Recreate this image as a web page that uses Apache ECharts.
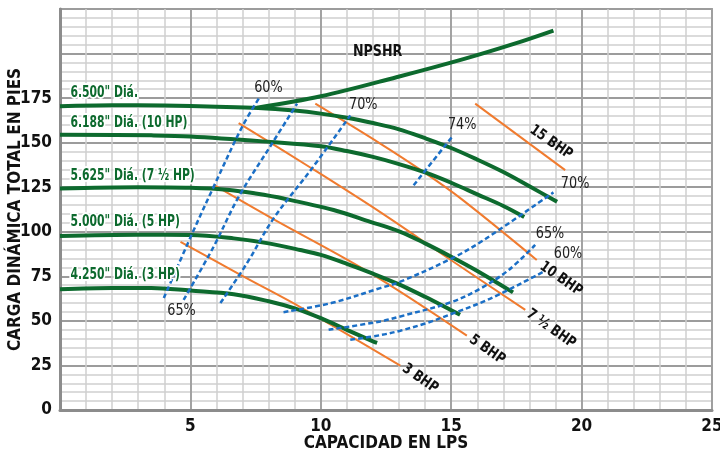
<!DOCTYPE html>
<html><head><meta charset="utf-8">
<script src="https://cdn.jsdelivr.net/npm/echarts@6/dist/echarts.min.js"></script>
<style>html,body{margin:0;padding:0;background:#fff}#c{width:720px;height:458px}</style>
</head><body><div id="c"></div>
<script>
// ---- axis ----
const xMin = 0, xMax = 25, yMin = 0, yMax = 225;
const xTickLabels = [5, 10, 15, 20, 25];
const yTickLabels = [0, 25, 50, 75, 100, 125, 150, 175];
const xName = 'CAPACIDAD EN LPS';
const yName = 'CARGA DINÁMICA TOTAL EN PIES';

// ---- head curves (impeller diameters) ----
const d6500 = [[0,170.5],[2,171],[4,170.8],[6,170.2],[7.6,169.5],[9,168],[10,166.3],[11,164],[12,161],[13,157.5],[14,152.5],[15,147],[16,140.5],[17,133.5],[18,125.5],[19.06,116.8]];
const d6188 = [[0,154.5],[3.5,154.1],[5,153.5],[8.07,150.4],[10,148],[11,145.3],[12,142],[13,138],[14,133.3],[15,127.5],[16,121],[17,114.5],[17.8,108.3]];
const d5625 = [[0,124.3],[3,125],[5,124.7],[6.5,123.5],[7.5,121.5],[8.57,118.7],[10.49,112.2],[11.9,105.6],[13.05,100],[14,93.5],[15,86],[16,78],[17.37,66]];
const d5000 = [[0,97.6],[3,98.3],[5,98.2],[6.66,96.3],[8,93.5],[9.21,89.8],[10,87],[11,82],[12,76.5],[13,70.5],[14,63.5],[15,56],[15.34,53.4]];
const d4250 = [[0,67.8],[2,68.5],[3.5,68.5],[5,67],[6.66,65],[8,61],[9,57],[10,51.5],[11,45],[12,38.5],[12.16,37.6]];
const npshr = [[7.55,169.6],[10,176],[12.9,186.7],[15.5,197],[17.4,205.4],[18.92,212.9]];

// ---- power lines (BHP) ----
const bhp15 = [[15.92,171.9],[19.37,134.6]];
const bhp10 = [[9.79,171.9],[12.28,149.5],[13.94,133.6],[15.41,118.2],[18.28,84.2]];
const bhp75 = [[6.85,161],[9.66,135.5],[12.28,111],[15,84],[17.84,56.2]];
const bhp5  = [[5.93,126],[8.13,107.5],[11.9,76.8],[15.6,41.7]];
const bhp3  = [[4.62,94.4],[6.92,75.8],[9.28,57.2],[13.05,24.9]];

// ---- efficiency lines ----
const eff60L = [[3.98,62.8],[5.07,99.1],[5.89,125.2],[6.98,158.8],[7.62,174.7]];
const eff65L = [[4.74,61.8],[5.89,91.6],[6.85,119.6],[8.13,149.5],[9.09,171.9]];
const eff70L = [[6.15,60.0],[7.17,82.4],[8.19,107.5],[9.66,135.5],[11.13,165.3]];
const eff74  = [[13.56,126.1],[15.03,153.2]];
const eff70R = [[8.57,54.9],[10.4,60],[12.28,68.4],[13.05,72],[15.03,85.1],[16.24,95.3],[18.92,122.1]];
const eff65R = [[10.3,45],[12.28,49.7],[13.05,52.5],[15,60.5],[16.1,68],[17.2,78.5],[18.22,92.6]];
const eff60R = [[11.13,39.4],[12.28,42],[13.05,44.5],[14,48.5],[15.03,54],[16.5,62.5],[18.54,77.6]];

// ---- annotation texts ----
const diaTexts = ['6.500" Diá.', '6.188" Diá. (10 HP)', '5.625" Diá. (7 ½ HP)', '5.000" Diá. (5 HP)', '4.250" Diá. (3 HP)'];
const diaAt = [[0.4,177.6],[0.4,161.1],[0.4,131.5],[0.4,105.7],[0.4,75.5]];
const pctTexts = ['60%', '70%', '74%', '70%', '65%', '60%', '65%'];
const pctAt = [[7.99,180.7],[11.63,170.9],[15.42,159.7],[19.75,127.0],[18.79,98.7],[19.48,87.6],[4.66,55.4]];
const bhpTexts = ['15 BHP', '10 BHP', '7 ½ BHP', '5 BHP', '3 BHP'];
const bhpAt = [[18.83,150.2],[19.21,73.6],[18.83,45.6],[16.38,33.8],[13.81,17.6]];
const npshrText = 'NPSHR';
const npshrAt = [12.18,200.7];

const F = "'DejaVu Sans Condensed','Liberation Sans Narrow','Roboto Condensed','Open Sans',sans-serif";
const GREEN = '#0d6a2e', ORANGE = '#f07b2f', BLUE = '#1b6fc6';

function curve(data, color, width, dashed, z) {
  return { type: 'line', data: data, showSymbol: false, smooth: 0.35, silent: true, z: z,
    lineStyle: { color: color, width: width, type: dashed ? [5, 3] : 'solid', cap: 'butt' } };
}

// annotation styles (kind index -> style)
const annStyles = [
  { fill: GREEN, fontWeight: 'bold', fontSize: 15, align: 'left', scaleX: 0.8, rot: 0, stroke: '#fff' },
  { fill: '#222', fontWeight: 'normal', fontSize: 15, align: 'center', scaleX: 0.95, rot: 0 },
  { fill: '#111', fontWeight: 'bold', fontSize: 15, align: 'center', scaleX: 0.88, rot: -35 },
  { fill: '#111', fontWeight: 'bold', fontSize: 16, align: 'center', scaleX: 0.88, rot: 0 }
];
const annTexts = [];
const annData = [];
function addAnn(texts, pos, kind) {
  texts.forEach((t, i) => { annData.push([pos[i][0], pos[i][1], annTexts.length, kind]); annTexts.push(t); });
}
addAnn(diaTexts, diaAt, 0);
addAnn(pctTexts, pctAt, 1);
addAnn(bhpTexts, bhpAt, 2);
addAnn([npshrText], [npshrAt], 3);

const chart = echarts.init(document.getElementById('c'), null, { renderer: 'canvas' });
chart.setOption({
  animation: false,
  backgroundColor: '#fff',
  grid: { left: 60, right: 8, top: 9, bottom: 48, show: true, borderColor: '#a3a3a3', borderWidth: 2,
    backgroundColor: 'transparent', containLabel: false, outerBoundsMode: 'none' },
  xAxis: [
    { type: 'value', min: xMin, max: xMax, interval: 1,
      axisLine: { show: false }, axisTick: { show: false }, axisLabel: { show: false },
      splitLine: { show: true, lineStyle: { color: '#cfcfcf', width: 1.5 } } },
    { type: 'value', min: xMin, max: xMax, interval: 5, position: 'bottom',
      name: xName, nameLocation: 'middle', nameGap: 25, nameMoveOverlap: false,
      nameTextStyle: { fontFamily: F, fontWeight: 'bold', fontSize: 17, color: '#111' },
      axisLine: { show: true, onZero: false, lineStyle: { color: '#8c8c8c', width: 3 } }, axisTick: { show: false },
      axisLabel: { fontFamily: F, fontWeight: 'bold', fontSize: 17, color: '#111', margin: 8,
        formatter: v => xTickLabels.indexOf(v) >= 0 ? String(v) : '' },
      splitLine: { show: true, lineStyle: { color: '#9c9c9c', width: 1.8 } } }
  ],
  yAxis: [
    { type: 'value', min: yMin, max: yMax, interval: 5,
      axisLine: { show: false }, axisTick: { show: false }, axisLabel: { show: false },
      splitLine: { show: true, lineStyle: { color: '#cfcfcf', width: 1.5 } } },
    { type: 'value', min: yMin, max: yMax, interval: 25, position: 'left',
      name: yName, nameLocation: 'middle', nameGap: 36, nameRotate: 90, nameMoveOverlap: false,
      nameTextStyle: { fontFamily: F, fontWeight: 'bold', fontSize: 17, color: '#111' },
      axisLine: { show: true, onZero: false, lineStyle: { color: '#8c8c8c', width: 3 } }, axisTick: { show: false },
      axisLabel: { fontFamily: F, fontWeight: 'bold', fontSize: 17, color: '#111', margin: 8,
        formatter: v => yTickLabels.indexOf(v) >= 0 ? String(v) : '' },
      splitLine: { show: true, lineStyle: { color: '#9c9c9c', width: 1.8 } } }
  ],
  series: [
    curve(bhp15, ORANGE, 2, false, 3),
    curve(bhp10, ORANGE, 2, false, 3),
    curve(bhp75, ORANGE, 2, false, 3),
    curve(bhp5, ORANGE, 2, false, 3),
    curve(bhp3, ORANGE, 2, false, 3),
    curve(d6500, GREEN, 4, false, 4),
    curve(d6188, GREEN, 4, false, 4),
    curve(d5625, GREEN, 4, false, 4),
    curve(d5000, GREEN, 4, false, 4),
    curve(d4250, GREEN, 4, false, 4),
    curve(npshr, GREEN, 4, false, 4),
    curve(eff60L, BLUE, 2.5, true, 5),
    curve(eff65L, BLUE, 2.5, true, 5),
    curve(eff70L, BLUE, 2.5, true, 5),
    curve(eff74, BLUE, 2.5, true, 5),
    curve(eff70R, BLUE, 2.5, true, 5),
    curve(eff65R, BLUE, 2.5, true, 5),
    curve(eff60R, BLUE, 2.5, true, 5),
    { type: 'custom', data: annData, silent: true, z: 10, clip: false,
      renderItem: function (params, api) {
        const p = api.coord([api.value(0), api.value(1)]);
        const s = annStyles[api.value(3)];
        const st = { text: annTexts[api.value(2)], fill: s.fill, fontFamily: F, fontWeight: s.fontWeight,
          fontSize: s.fontSize, align: s.align, verticalAlign: 'middle', textAlign: s.align, textVerticalAlign: 'middle' };
        if (s.stroke) { st.stroke = s.stroke; st.lineWidth = 4; st.strokeFirst = true; }
        return { type: 'text', x: p[0], y: p[1], rotation: s.rot * Math.PI / 180, scaleX: s.scaleX, style: st };
      } }
  ]
});
</script></body></html>
